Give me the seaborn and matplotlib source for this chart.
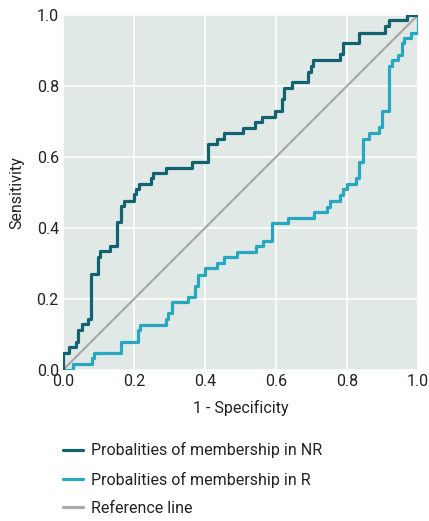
import matplotlib
matplotlib.use("Agg")
import matplotlib.pyplot as plt
import seaborn as sns
import pandas as pd
from matplotlib.lines import Line2D

# ROC step vertices: (1 - specificity, sensitivity) at the top of each vertical step
nr_fpr = [0.0, 0.0, 0.017, 0.037, 0.043, 0.053, 0.071, 0.078, 0.098, 0.104,
          0.132, 0.153, 0.162, 0.172, 0.200, 0.206, 0.215, 0.248, 0.254, 0.290,
          0.362, 0.408, 0.433, 0.454, 0.506, 0.541, 0.561, 0.597, 0.618, 0.623,
          0.644, 0.689, 0.699, 0.705, 0.780, 0.788, 0.835, 0.907, 0.917, 0.968,
          1.0]
nr_tpr = [0.0, 0.049, 0.064, 0.080, 0.113, 0.130, 0.144, 0.270, 0.317, 0.335,
          0.349, 0.416, 0.462, 0.477, 0.495, 0.510, 0.524, 0.540, 0.554, 0.570,
          0.587, 0.636, 0.651, 0.667, 0.683, 0.698, 0.714, 0.730, 0.763, 0.793,
          0.812, 0.840, 0.855, 0.873, 0.889, 0.920, 0.950, 0.970, 0.986, 1.0,
          1.0]

r_fpr = [0.0, 0.028, 0.082, 0.088, 0.162, 0.210, 0.216, 0.290, 0.297, 0.306,
         0.353, 0.371, 0.380, 0.399, 0.435, 0.454, 0.489, 0.544, 0.562, 0.590,
         0.635, 0.707, 0.743, 0.752, 0.780, 0.790, 0.799, 0.825, 0.834, 0.844,
         0.863, 0.891, 0.898, 0.917, 0.928, 0.945, 0.954, 0.961, 0.980, 1.0]
r_tpr = [0.0, 0.017, 0.033, 0.049, 0.079, 0.113, 0.128, 0.143, 0.160, 0.191,
         0.206, 0.237, 0.269, 0.286, 0.301, 0.317, 0.333, 0.349, 0.364, 0.413,
         0.427, 0.444, 0.460, 0.476, 0.493, 0.509, 0.524, 0.540, 0.587, 0.650,
         0.667, 0.684, 0.730, 0.856, 0.873, 0.887, 0.920, 0.934, 0.950, 1.0]

ref_x = [0.0, 1.0]
ref_y = [0.0, 1.0]

labels = ["Probalities of membership in NR",
          "Probalities of membership in R",
          "Reference line"]
ticks = [0.0, 0.2, 0.4, 0.6, 0.8, 1.0]

c_nr = "#13626f"
c_r = "#27a8c0"
c_ref = "#a9a9a9"
bg = "#e1e9e7"
txt = "#222222"

sns.set_theme(style="white")
plt.rcParams["font.family"] = ["Roboto", "DejaVu Sans"]
plt.rcParams["font.size"] = 11

fig = plt.figure(figsize=(4.29, 5.21), dpi=100)
ax = fig.add_axes([63 / 429, 1 - 370 / 521, 355 / 429, 355 / 521])
ax.set_facecolor(bg)

df_nr = pd.DataFrame({"x": nr_fpr, "y": nr_tpr})
df_r = pd.DataFrame({"x": r_fpr, "y": r_tpr})
df_ref = pd.DataFrame({"x": ref_x, "y": ref_y})

sns.lineplot(data=df_ref, x="x", y="y", ax=ax, color=c_ref, lw=1.6,
             estimator=None, sort=False, zorder=2)
sns.lineplot(data=df_r, x="x", y="y", ax=ax, color=c_r, lw=2.3,
             estimator=None, sort=False, drawstyle="steps-post", zorder=3)
sns.lineplot(data=df_nr, x="x", y="y", ax=ax, color=c_nr, lw=2.3,
             estimator=None, sort=False, drawstyle="steps-post", zorder=4)

ax.set_xlim(0, 1)
ax.set_ylim(0, 1)
ax.set_xticks(ticks)
ax.set_yticks(ticks)
ax.set_xticklabels([f"{t:.1f}" for t in ticks], fontsize=11.5, color=txt)
ax.set_yticklabels([f"{t:.1f}" for t in ticks], fontsize=11.5, color=txt)
ax.tick_params(length=0, pad=3)
ax.grid(True, color="white", lw=1.2)
ax.set_axisbelow(True)
for s in ax.spines.values():
    s.set_visible(False)
ax.set_xlabel("1 - Specificity", fontsize=11.5, color=txt, labelpad=8)
ax.set_ylabel("Sensitivity", fontsize=11.5, color=txt, labelpad=9)

handles = [Line2D([0], [0], color=c_nr, lw=2.3),
           Line2D([0], [0], color=c_r, lw=2.3),
           Line2D([0], [0], color=c_ref, lw=2.3)]
fig.legend(handles, labels, loc="upper left", bbox_to_anchor=(49 / 429, 1 - 428 / 521),
           frameon=False, fontsize=11.5, handlelength=1.2, handletextpad=0.55,
           labelspacing=0.82, labelcolor=txt)

fig.savefig("out.png", dpi=100, facecolor="white")
